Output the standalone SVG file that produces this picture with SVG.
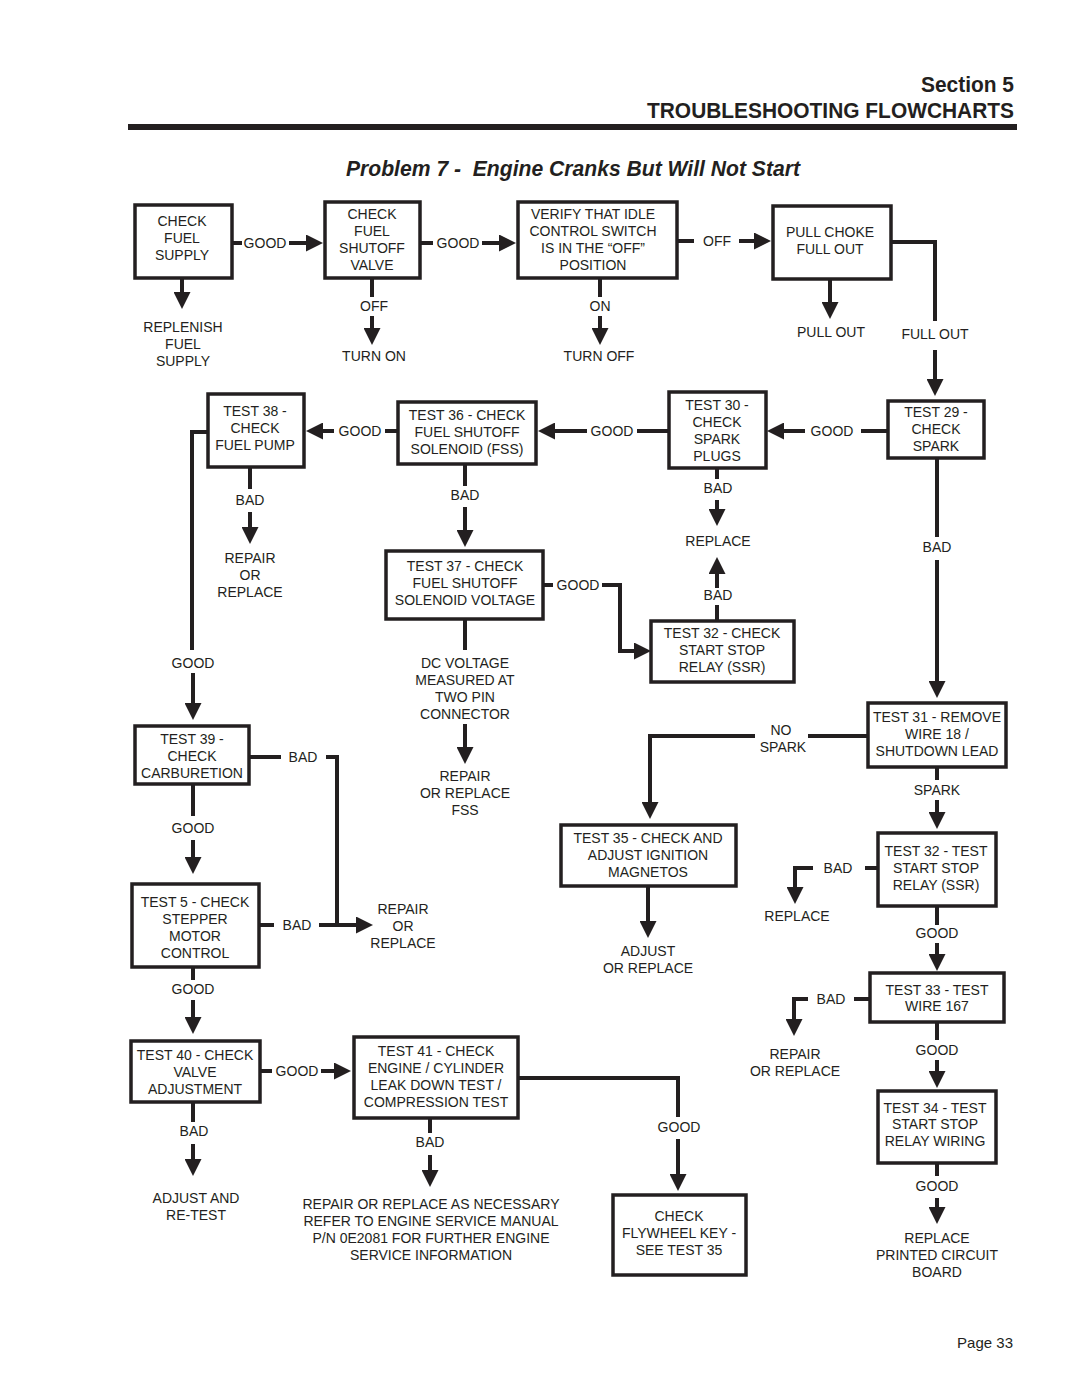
<svg xmlns="http://www.w3.org/2000/svg" width="1080" height="1397" viewBox="0 0 1080 1397">
<style>
.t{font-family:"Liberation Sans",Arial,sans-serif;font-size:14px;text-anchor:middle;fill:#231f20}
.b{fill:#fff;stroke:#231f20;stroke-width:3.5}
.c{fill:none;stroke:#231f20;stroke-width:4}
.h{font-family:"Liberation Sans",Arial,sans-serif;font-weight:bold;fill:#231f20}
</style>
<defs>
<marker id="ah" markerUnits="userSpaceOnUse" viewBox="0 0 17 17" markerWidth="17" markerHeight="17" refX="0" refY="8.5" orient="auto">
<path d="M0,0 L17,8.5 L0,17 z" fill="#231f20"/>
</marker>
</defs>
<rect width="1080" height="1397" fill="#fff"/>
<g id="header">
<text class="h" x="1014" y="92" font-size="22" text-anchor="end" textLength="93" lengthAdjust="spacingAndGlyphs">Section 5</text>
<text class="h" x="1014" y="118" font-size="22" text-anchor="end" textLength="367" lengthAdjust="spacingAndGlyphs">TROUBLESHOOTING FLOWCHARTS</text>
<rect x="128" y="124" width="889" height="6" fill="#231f20"/>
<text class="h" x="346" y="176" font-size="22" font-style="italic" xml:space="preserve" textLength="454" lengthAdjust="spacingAndGlyphs">Problem 7 -  Engine Cranks But Will Not Start</text>
<text x="1013" y="1348" font-family="Liberation Sans,Arial,sans-serif" font-size="15" text-anchor="end" fill="#231f20">Page 33</text>
</g>
<g id="connectors">
<line class="c" x1="182" y1="278" x2="182" y2="292" marker-end="url(#ah)"/>
<line class="c" x1="232" y1="243" x2="242" y2="243"/>
<line class="c" x1="289" y1="243" x2="306" y2="243" marker-end="url(#ah)"/>
<line class="c" x1="372" y1="278" x2="372" y2="297"/>
<line class="c" x1="372" y1="316" x2="372" y2="328" marker-end="url(#ah)"/>
<line class="c" x1="420" y1="243" x2="433" y2="243"/>
<line class="c" x1="482" y1="243" x2="499" y2="243" marker-end="url(#ah)"/>
<line class="c" x1="600" y1="278" x2="600" y2="297"/>
<line class="c" x1="600" y1="316" x2="600" y2="328" marker-end="url(#ah)"/>
<line class="c" x1="677" y1="241" x2="694" y2="241"/>
<line class="c" x1="739" y1="241" x2="754" y2="241" marker-end="url(#ah)"/>
<line class="c" x1="830" y1="279" x2="830" y2="302" marker-end="url(#ah)"/>
<polyline class="c" points="891,242 935,242 935,321"/>
<line class="c" x1="935" y1="350" x2="935" y2="379" marker-end="url(#ah)"/>
<line class="c" x1="888" y1="431" x2="861" y2="431"/>
<line class="c" x1="805" y1="431" x2="784" y2="431" marker-end="url(#ah)"/>
<line class="c" x1="937" y1="458" x2="937" y2="537"/>
<line class="c" x1="937" y1="560" x2="937" y2="681" marker-end="url(#ah)"/>
<line class="c" x1="669" y1="431" x2="637" y2="431"/>
<line class="c" x1="587" y1="431" x2="555" y2="431" marker-end="url(#ah)"/>
<line class="c" x1="717" y1="468" x2="717" y2="479"/>
<line class="c" x1="717" y1="500" x2="717" y2="509" marker-end="url(#ah)"/>
<line class="c" x1="398" y1="431" x2="385" y2="431"/>
<line class="c" x1="334" y1="431" x2="323" y2="431" marker-end="url(#ah)"/>
<line class="c" x1="465" y1="464" x2="465" y2="486"/>
<line class="c" x1="465" y1="507" x2="465" y2="530" marker-end="url(#ah)"/>
<line class="c" x1="250" y1="467" x2="250" y2="489"/>
<line class="c" x1="250" y1="512" x2="250" y2="527" marker-end="url(#ah)"/>
<polyline class="c" points="208,432 192,432 192,650"/>
<line class="c" x1="193" y1="673" x2="193" y2="703" marker-end="url(#ah)"/>
<line class="c" x1="543" y1="585" x2="553" y2="585"/>
<polyline class="c" points="602,585 620,585 620,651 634,651" marker-end="url(#ah)"/>
<line class="c" x1="465" y1="619" x2="465" y2="650"/>
<line class="c" x1="465" y1="724" x2="465" y2="747" marker-end="url(#ah)"/>
<line class="c" x1="717" y1="621" x2="717" y2="605"/>
<line class="c" x1="717" y1="588" x2="717" y2="574" marker-end="url(#ah)"/>
<line class="c" x1="868" y1="736" x2="808" y2="736"/>
<polyline class="c" points="755,736 650,736 650,802" marker-end="url(#ah)"/>
<line class="c" x1="937" y1="767" x2="937" y2="780"/>
<line class="c" x1="937" y1="800" x2="937" y2="812" marker-end="url(#ah)"/>
<line class="c" x1="648" y1="886" x2="648" y2="921" marker-end="url(#ah)"/>
<line class="c" x1="878" y1="868" x2="865" y2="868"/>
<polyline class="c" points="813,868 795,868 795,887" marker-end="url(#ah)"/>
<line class="c" x1="937" y1="906" x2="937" y2="925"/>
<line class="c" x1="937" y1="943" x2="937" y2="954" marker-end="url(#ah)"/>
<line class="c" x1="870" y1="999" x2="854" y2="999"/>
<polyline class="c" points="808,999 794,999 794,1019" marker-end="url(#ah)"/>
<line class="c" x1="937" y1="1022" x2="937" y2="1040"/>
<line class="c" x1="937" y1="1060" x2="937" y2="1071" marker-end="url(#ah)"/>
<line class="c" x1="937" y1="1163" x2="937" y2="1176"/>
<line class="c" x1="937" y1="1198" x2="937" y2="1207" marker-end="url(#ah)"/>
<line class="c" x1="249" y1="757" x2="281" y2="757"/>
<polyline class="c" points="326,757 337,757 337,925"/>
<line class="c" x1="259" y1="925" x2="274" y2="925"/>
<line class="c" x1="319" y1="925" x2="356" y2="925" marker-end="url(#ah)"/>
<line class="c" x1="193" y1="784" x2="193" y2="816"/>
<line class="c" x1="193" y1="840" x2="193" y2="857" marker-end="url(#ah)"/>
<line class="c" x1="193" y1="967" x2="193" y2="980"/>
<line class="c" x1="193" y1="1000" x2="193" y2="1017" marker-end="url(#ah)"/>
<line class="c" x1="260" y1="1071" x2="272" y2="1071"/>
<line class="c" x1="321" y1="1071" x2="334" y2="1071" marker-end="url(#ah)"/>
<line class="c" x1="193" y1="1102" x2="193" y2="1122"/>
<line class="c" x1="193" y1="1144" x2="193" y2="1159" marker-end="url(#ah)"/>
<polyline class="c" points="518,1078 678,1078 678,1117"/>
<line class="c" x1="678" y1="1139" x2="678" y2="1174" marker-end="url(#ah)"/>
<line class="c" x1="430" y1="1118" x2="430" y2="1133"/>
<line class="c" x1="430" y1="1155" x2="430" y2="1170" marker-end="url(#ah)"/>
</g>
<g id="labels">
<text class="t" x="265" y="248">GOOD</text>
<text class="t" x="183" y="332">REPLENISH</text>
<text class="t" x="183" y="349">FUEL</text>
<text class="t" x="183" y="366">SUPPLY</text>
<text class="t" x="374" y="311">OFF</text>
<text class="t" x="374" y="361">TURN ON</text>
<text class="t" x="458" y="248">GOOD</text>
<text class="t" x="600" y="311">ON</text>
<text class="t" x="599" y="361">TURN OFF</text>
<text class="t" x="717" y="246">OFF</text>
<text class="t" x="831" y="337">PULL OUT</text>
<text class="t" x="935" y="339">FULL OUT</text>
<text class="t" x="832" y="436">GOOD</text>
<text class="t" x="937" y="552">BAD</text>
<text class="t" x="612" y="436">GOOD</text>
<text class="t" x="718" y="493">BAD</text>
<text class="t" x="718" y="546">REPLACE</text>
<text class="t" x="360" y="436">GOOD</text>
<text class="t" x="465" y="500">BAD</text>
<text class="t" x="250" y="505">BAD</text>
<text class="t" x="250" y="563">REPAIR</text>
<text class="t" x="250" y="580">OR</text>
<text class="t" x="250" y="597">REPLACE</text>
<text class="t" x="193" y="668">GOOD</text>
<text class="t" x="578" y="590">GOOD</text>
<text class="t" x="718" y="600">BAD</text>
<text class="t" x="465" y="668">DC VOLTAGE</text>
<text class="t" x="465" y="685">MEASURED AT</text>
<text class="t" x="465" y="702">TWO PIN</text>
<text class="t" x="465" y="719">CONNECTOR</text>
<text class="t" x="465" y="781">REPAIR</text>
<text class="t" x="465" y="798">OR REPLACE</text>
<text class="t" x="465" y="815">FSS</text>
<text class="t" x="781" y="735">NO</text>
<text class="t" x="783" y="752">SPARK</text>
<text class="t" x="937" y="795">SPARK</text>
<text class="t" x="648" y="956">ADJUST</text>
<text class="t" x="648" y="973">OR REPLACE</text>
<text class="t" x="838" y="873">BAD</text>
<text class="t" x="797" y="921">REPLACE</text>
<text class="t" x="937" y="938">GOOD</text>
<text class="t" x="831" y="1004">BAD</text>
<text class="t" x="795" y="1059">REPAIR</text>
<text class="t" x="795" y="1076">OR REPLACE</text>
<text class="t" x="937" y="1055">GOOD</text>
<text class="t" x="937" y="1191">GOOD</text>
<text class="t" x="937" y="1243">REPLACE</text>
<text class="t" x="937" y="1260">PRINTED CIRCUIT</text>
<text class="t" x="937" y="1277">BOARD</text>
<text class="t" x="303" y="762">BAD</text>
<text class="t" x="297" y="930">BAD</text>
<text class="t" x="403" y="914">REPAIR</text>
<text class="t" x="403" y="931">OR</text>
<text class="t" x="403" y="948">REPLACE</text>
<text class="t" x="193" y="833">GOOD</text>
<text class="t" x="193" y="994">GOOD</text>
<text class="t" x="297" y="1076">GOOD</text>
<text class="t" x="194" y="1136">BAD</text>
<text class="t" x="196" y="1203">ADJUST AND</text>
<text class="t" x="196" y="1220">RE-TEST</text>
<text class="t" x="679" y="1132">GOOD</text>
<text class="t" x="430" y="1147">BAD</text>
<text class="t" x="431" y="1209">REPAIR OR REPLACE AS NECESSARY</text>
<text class="t" x="431" y="1226">REFER TO ENGINE SERVICE MANUAL</text>
<text class="t" x="431" y="1243">P/N 0E2081 FOR FURTHER ENGINE</text>
<text class="t" x="431" y="1260">SERVICE INFORMATION</text>
</g>
<g id="n-fuel-supply">
<rect class="b" x="135" y="205" width="97" height="73"/>
<text class="t" x="182" y="226">CHECK</text>
<text class="t" x="182" y="243">FUEL</text>
<text class="t" x="182" y="260">SUPPLY</text>
</g>
<g id="n-shutoff-valve">
<rect class="b" x="325" y="202" width="95" height="76"/>
<text class="t" x="372" y="219">CHECK</text>
<text class="t" x="372" y="236">FUEL</text>
<text class="t" x="372" y="253">SHUTOFF</text>
<text class="t" x="372" y="270">VALVE</text>
</g>
<g id="n-idle-switch">
<rect class="b" x="518" y="202" width="159" height="76"/>
<text class="t" x="593" y="219">VERIFY THAT IDLE</text>
<text class="t" x="593" y="236">CONTROL SWITCH</text>
<text class="t" x="593" y="253">IS IN THE “OFF”</text>
<text class="t" x="593" y="270">POSITION</text>
</g>
<g id="n-choke">
<rect class="b" x="773" y="206" width="118" height="73"/>
<text class="t" x="830" y="237">PULL CHOKE</text>
<text class="t" x="830" y="254">FULL OUT</text>
</g>
<g id="n-test29">
<rect class="b" x="888" y="401" width="96" height="57"/>
<text class="t" x="936" y="417">TEST 29 -</text>
<text class="t" x="936" y="434">CHECK</text>
<text class="t" x="936" y="451">SPARK</text>
</g>
<g id="n-test30">
<rect class="b" x="669" y="392" width="97" height="76"/>
<text class="t" x="717" y="410">TEST 30 -</text>
<text class="t" x="717" y="427">CHECK</text>
<text class="t" x="717" y="444">SPARK</text>
<text class="t" x="717" y="461">PLUGS</text>
</g>
<g id="n-test36">
<rect class="b" x="398" y="402" width="138" height="62"/>
<text class="t" x="467" y="420">TEST 36 - CHECK</text>
<text class="t" x="467" y="437">FUEL SHUTOFF</text>
<text class="t" x="467" y="454">SOLENOID (FSS)</text>
</g>
<g id="n-test38">
<rect class="b" x="208" y="394" width="96" height="73"/>
<text class="t" x="255" y="416">TEST 38 -</text>
<text class="t" x="255" y="433">CHECK</text>
<text class="t" x="255" y="450">FUEL PUMP</text>
</g>
<g id="n-test37">
<rect class="b" x="386" y="551" width="157" height="68"/>
<text class="t" x="465" y="571">TEST 37 - CHECK</text>
<text class="t" x="465" y="588">FUEL SHUTOFF</text>
<text class="t" x="465" y="605">SOLENOID VOLTAGE</text>
</g>
<g id="n-test32-check">
<rect class="b" x="651" y="621" width="143" height="61"/>
<text class="t" x="722" y="638">TEST 32 - CHECK</text>
<text class="t" x="722" y="655">START STOP</text>
<text class="t" x="722" y="672">RELAY (SSR)</text>
</g>
<g id="n-test31">
<rect class="b" x="868" y="703" width="138" height="64"/>
<text class="t" x="937" y="722">TEST 31 - REMOVE</text>
<text class="t" x="937" y="739">WIRE 18 /</text>
<text class="t" x="937" y="756">SHUTDOWN LEAD</text>
</g>
<g id="n-test35">
<rect class="b" x="561" y="825" width="175" height="61"/>
<text class="t" x="648" y="843">TEST 35 - CHECK AND</text>
<text class="t" x="648" y="860">ADJUST IGNITION</text>
<text class="t" x="648" y="877">MAGNETOS</text>
</g>
<g id="n-test32-test">
<rect class="b" x="878" y="833" width="118" height="73"/>
<text class="t" x="936" y="856">TEST 32 - TEST</text>
<text class="t" x="936" y="873">START STOP</text>
<text class="t" x="936" y="890">RELAY (SSR)</text>
</g>
<g id="n-test33">
<rect class="b" x="870" y="973" width="134" height="49"/>
<text class="t" x="937" y="995">TEST 33 - TEST</text>
<text class="t" x="937" y="1011">WIRE 167</text>
</g>
<g id="n-test34">
<rect class="b" x="878" y="1091" width="118" height="72"/>
<text class="t" x="935" y="1113">TEST 34 - TEST</text>
<text class="t" x="935" y="1129">START STOP</text>
<text class="t" x="935" y="1146">RELAY WIRING</text>
</g>
<g id="n-test39">
<rect class="b" x="135" y="726" width="114" height="58"/>
<text class="t" x="192" y="744">TEST 39 -</text>
<text class="t" x="192" y="761">CHECK</text>
<text class="t" x="192" y="778">CARBURETION</text>
</g>
<g id="n-test5">
<rect class="b" x="132" y="884" width="127" height="83"/>
<text class="t" x="195" y="907">TEST 5 - CHECK</text>
<text class="t" x="195" y="924">STEPPER</text>
<text class="t" x="195" y="941">MOTOR</text>
<text class="t" x="195" y="958">CONTROL</text>
</g>
<g id="n-test40">
<rect class="b" x="131" y="1041" width="129" height="61"/>
<text class="t" x="195" y="1060">TEST 40 - CHECK</text>
<text class="t" x="195" y="1077">VALVE</text>
<text class="t" x="195" y="1094">ADJUSTMENT</text>
</g>
<g id="n-test41">
<rect class="b" x="354" y="1037" width="164" height="81"/>
<text class="t" x="436" y="1056">TEST 41 - CHECK</text>
<text class="t" x="436" y="1073">ENGINE / CYLINDER</text>
<text class="t" x="436" y="1090">LEAK DOWN TEST /</text>
<text class="t" x="436" y="1107">COMPRESSION TEST</text>
</g>
<g id="n-flywheel">
<rect class="b" x="613" y="1195" width="133" height="80"/>
<text class="t" x="679" y="1221">CHECK</text>
<text class="t" x="679" y="1238">FLYWHEEL KEY -</text>
<text class="t" x="679" y="1255">SEE TEST 35</text>
</g>
</svg>
